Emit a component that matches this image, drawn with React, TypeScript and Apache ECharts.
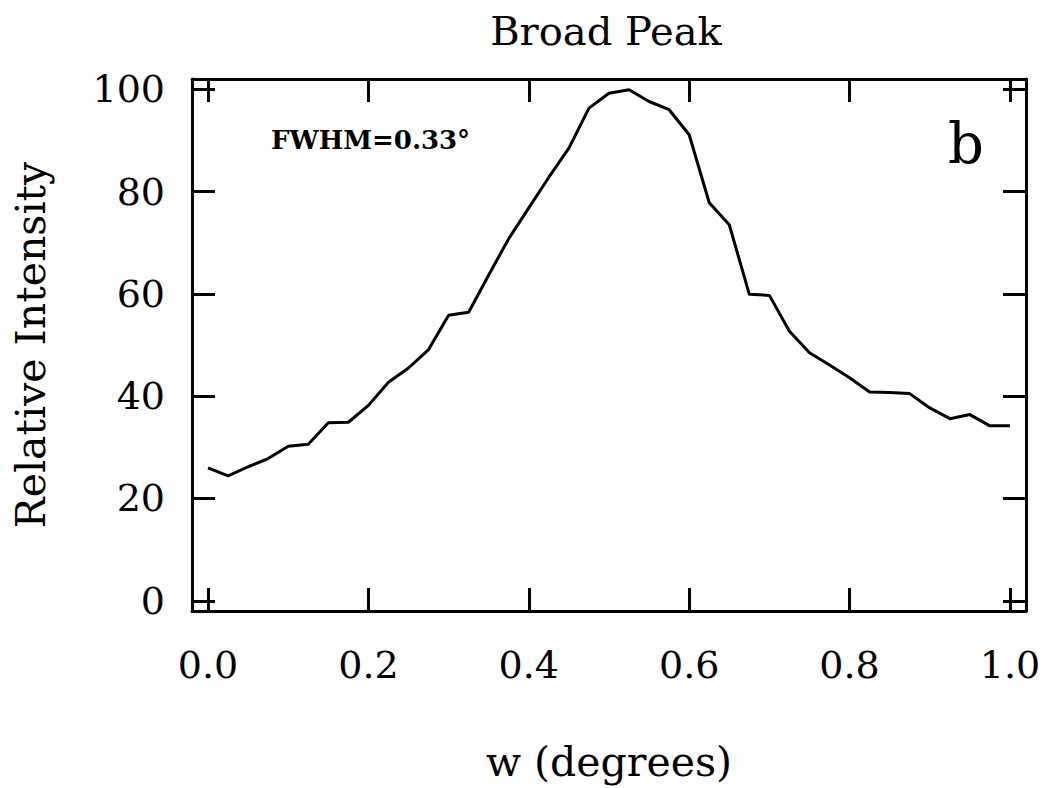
import React, { useEffect, useRef } from "react";
import * as echarts from "echarts";

// w (degrees) sample positions
const wDegrees = [
  0.0, 0.025, 0.05, 0.075, 0.1, 0.125, 0.15, 0.175, 0.2, 0.225, 0.25, 0.275, 0.3, 0.325,
  0.35, 0.375, 0.4, 0.425, 0.45, 0.475, 0.5, 0.525, 0.55, 0.575, 0.6, 0.625, 0.65, 0.675,
  0.7, 0.725, 0.75, 0.775, 0.8, 0.825, 0.85, 0.875, 0.9, 0.925, 0.95, 0.975, 1.0,
];
// Relative intensity
const relIntensity = [
  26.0, 24.4, 26.2, 27.8, 30.2, 30.6, 34.8, 34.9, 38.2, 42.7, 45.5, 49.1, 55.8, 56.4,
  63.7, 70.8, 76.8, 82.8, 88.5, 96.3, 99.2, 99.9, 97.6, 96.0, 91.1, 77.8, 73.5, 59.9,
  59.7, 52.7, 48.5, 46.1, 43.6, 40.8, 40.7, 40.5, 37.7, 35.6, 36.4, 34.2, 34.2,
];

const titleText = "Broad Peak";
const xAxisName = "w (degrees)";
const yAxisName = "Relative Intensity";
const fwhmText = "FWHM=0.33°";
const panelLetter = "b";

const FONT = "'DejaVu Serif', 'Liberation Serif', serif";
const BLACK = "#000";

export default function App() {
  const ref = useRef<HTMLDivElement>(null);

  useEffect(() => {
    if (!ref.current) return;
    const chart = echarts.init(ref.current, undefined, { renderer: "svg" });

    const lineStyle = { color: BLACK, width: 3 };
    const isMultiple = (v: number, step: number) =>
      Math.abs(v / step - Math.round(v / step)) < 1e-6;

    const baseX = {
      type: "value" as const,
      min: -0.02,
      max: 1.02,
      splitNumber: 5,
      axisLine: { show: true, onZero: false, lineStyle },
      axisTick: { show: true, inside: true, length: 23, lineStyle },
      splitLine: { show: false },
    };
    const baseY = {
      type: "value" as const,
      min: -2,
      max: 102,
      splitNumber: 5,
      axisLine: { show: true, onZero: false, lineStyle },
      axisTick: { show: true, inside: true, length: 23, lineStyle },
      splitLine: { show: false },
    };

    chart.setOption({
      animation: false,
      backgroundColor: "#fff",
      grid: {
        left: 192,
        right: 15,
        top: 79,
        bottom: 177,
        containLabel: false,
        outerBoundsMode: "none",
      },
      xAxis: [
        {
          ...baseX,
          position: "bottom",
          axisLabel: {
            show: true,
            margin: 35,
            fontFamily: FONT,
            fontSize: 38,
            color: BLACK,
            formatter: (v: number) => (isMultiple(v, 0.2) ? v.toFixed(1) : ""),
          },
          name: xAxisName,
          nameLocation: "middle",
          nameGap: 130,
          nameTextStyle: { fontFamily: FONT, fontSize: 41, color: BLACK },
        },
        {
          ...baseX,
          position: "top",
          axisLabel: { show: false },
        },
      ],
      yAxis: [
        {
          ...baseY,
          position: "left",
          axisLabel: {
            show: true,
            margin: 27,
            fontFamily: FONT,
            fontSize: 38,
            color: BLACK,
            formatter: (v: number) => (isMultiple(v, 20) ? String(Math.round(v)) : ""),
          },
          name: yAxisName,
          nameLocation: "middle",
          nameGap: 141,
          nameTextStyle: { fontFamily: FONT, fontSize: 41, color: BLACK },
        },
        {
          ...baseY,
          position: "right",
          axisLabel: { show: false },
        },
      ],
      series: [
        {
          type: "line",
          xAxisIndex: 0,
          yAxisIndex: 0,
          data: wDegrees.map((w, i) => [w, relIntensity[i]]),
          showSymbol: false,
          symbol: "none",
          lineStyle: { color: BLACK, width: 3 },
          silent: true,
        },
      ],
      graphic: [
        {
          type: "text",
          x: 606,
          y: 31,
          style: {
            text: titleText,
            fontFamily: FONT,
            fontSize: 40,
            fill: BLACK,
            align: "center",
            verticalAlign: "middle",
          },
        },
        {
          type: "text",
          x: 271,
          y: 140,
          style: {
            text: fwhmText,
            fontFamily: FONT,
            fontSize: 26,
            fontWeight: "bold",
            fill: BLACK,
            align: "left",
            verticalAlign: "middle",
          },
        },
        {
          type: "text",
          x: 966,
          y: 143,
          style: {
            text: panelLetter,
            fontFamily: FONT,
            fontSize: 56,
            fill: BLACK,
            align: "center",
            verticalAlign: "middle",
          },
        },
      ],
    });

    return () => chart.dispose();
  }, []);

  return (
    <div
      ref={ref}
      style={{ position: "absolute", left: 0, top: 0, width: 1041, height: 788 }}
    />
  );
}
